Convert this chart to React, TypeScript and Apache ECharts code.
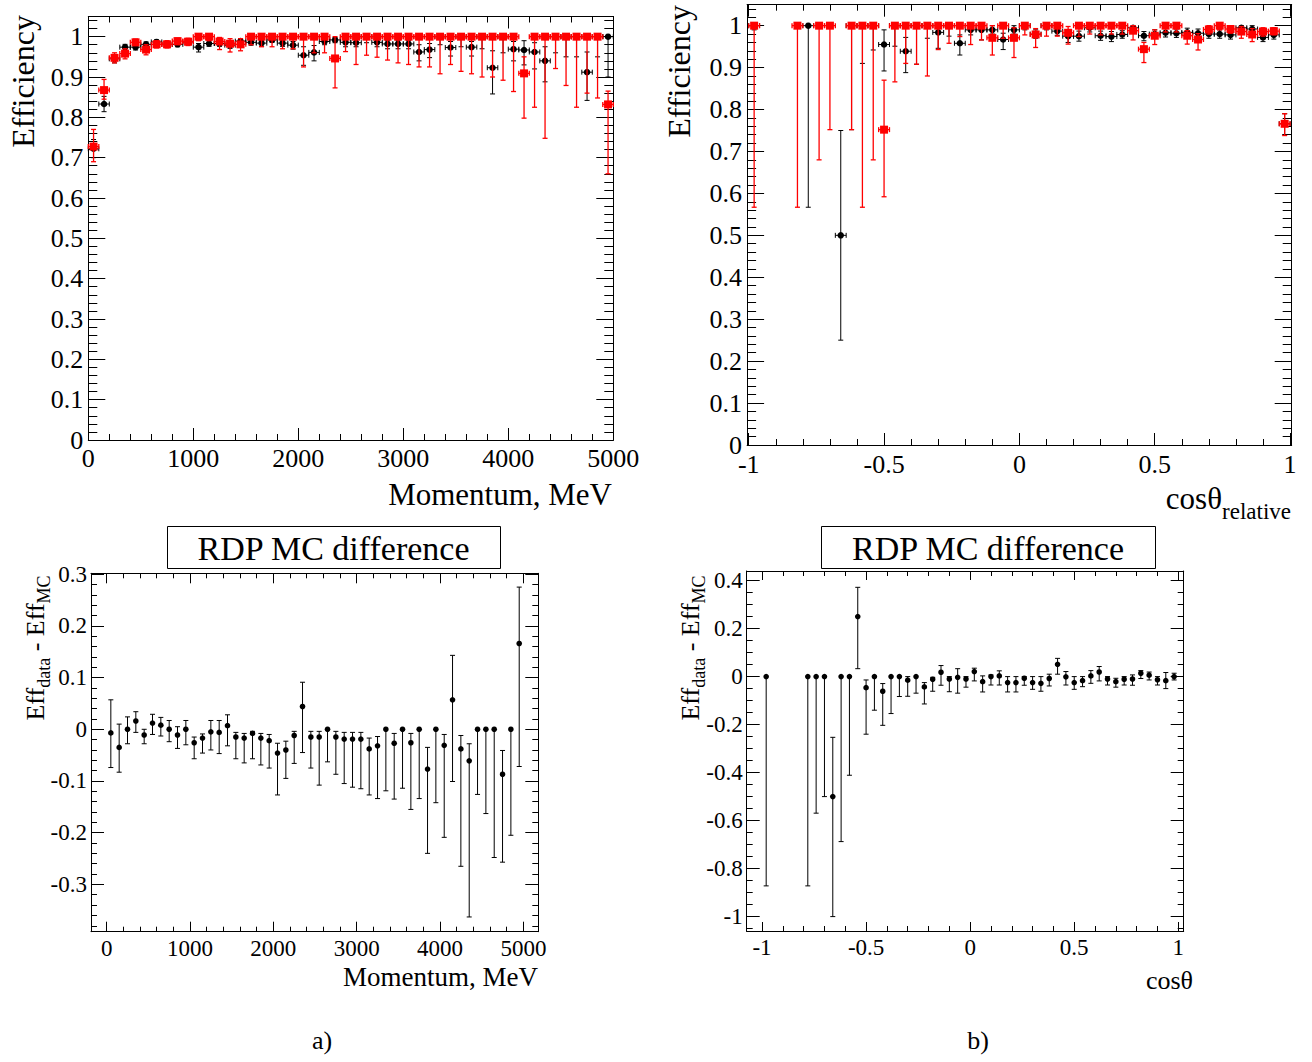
import React, { useEffect, useRef } from 'react';
import * as echarts from 'echarts';

const FONT = '"Liberation Serif", "Times New Roman", serif';

// ---------------- Panel a) : efficiency vs momentum ----------------
const momentumCenters = [50, 150, 250, 350, 450, 550, 650, 750, 850, 950, 1050, 1150, 1250, 1350, 1450, 1550, 1650, 1750, 1850, 1950, 2050, 2150, 2250, 2350, 2450, 2550, 2650, 2750, 2850, 2950, 3050, 3150, 3250, 3350, 3450, 3550, 3650, 3750, 3850, 3950, 4050, 4150, 4250, 4350, 4450, 4550, 4650, 4750, 4850, 4950];
const momentumHalfBin = 50;

const effDataP = [0.722, 0.833, 0.945, 0.974, 0.974, 0.981, 0.987, 0.981, 0.981, 0.987, 0.974, 0.983, 0.983, 0.979, 0.989, 0.986, 0.984, 0.992, 0.984, 0.979, 0.954, 0.961, 0.988, 0.992, 0.986, 0.985, 1, 0.986, 0.982, 0.982, 0.982, 0.962, 0.968, 1, 0.973, 1, 0.974, 1, 0.923, 1, 0.969, 0.967, 0.962, 0.94, 1, 1, 1, 0.912, 1, 1];
const effDataPLo = [0.700, 0.814, 0.935, 0.966, 0.967, 0.975, 0.982, 0.975, 0.975, 0.982, 0.962, 0.976, 0.976, 0.971, 0.983, 0.979, 0.976, 0.986, 0.976, 0.969, 0.929, 0.940, 0.980, 0.985, 0.975, 0.975, 0.985, 0.975, 0.970, 0.970, 0.970, 0.940, 0.948, 0.980, 0.952, 0.975, 0.952, 0.970, 0.858, 0.960, 0.940, 0.930, 0.920, 0.888, 0.960, 0.950, 0.950, 0.842, 0.950, 0.900];
const effDataPHi = [0.745, 0.852, 0.955, 0.981, 0.981, 0.987, 0.992, 0.987, 0.987, 0.992, 0.983, 0.990, 0.990, 0.986, 0.995, 0.992, 0.991, 0.997, 0.991, 0.988, 0.975, 0.978, 0.995, 0.998, 0.993, 0.993, 1, 0.994, 0.990, 0.990, 0.990, 0.980, 0.983, 1, 0.988, 1, 0.988, 1, 0.965, 1, 0.988, 0.990, 0.985, 0.975, 1, 1, 1, 0.962, 1, 1];

const effMcP = [0.7275, 0.8675, 0.9475, 0.958, 0.986, 0.968, 0.981, 0.981, 0.989, 0.9875, 1, 1, 0.988, 0.9825, 0.981, 1, 1, 1, 1, 1, 1, 1, 1, 0.946, 1, 1, 1, 1, 1, 1, 1, 1, 1, 1, 1, 1, 1, 1, 1, 1, 1, 0.909, 1, 1, 1, 1, 1, 1, 1, 0.832];
const effMcPLo = [0.690, 0.845, 0.935, 0.945, 0.978, 0.955, 0.972, 0.972, 0.980, 0.978, 0.990, 0.990, 0.968, 0.962, 0.965, 0.980, 0.975, 0.975, 0.970, 0.970, 0.925, 0.960, 0.960, 0.873, 0.963, 0.931, 0.954, 0.949, 0.942, 0.935, 0.931, 0.925, 0.925, 0.908, 0.931, 0.914, 0.908, 0.900, 0.900, 0.892, 0.864, 0.798, 0.825, 0.748, 0.921, 0.879, 0.825, 0.860, 0.848, 0.660];
const effMcPHi = [0.770, 0.894, 0.960, 0.970, 0.994, 0.980, 0.990, 0.990, 0.996, 0.996, 1, 1, 0.998, 0.995, 0.995, 1, 1, 1, 1, 1, 1, 1, 1, 1, 1, 1, 1, 1, 1, 1, 1, 1, 1, 1, 1, 1, 1, 1, 1, 1, 1, 0.950, 1, 1, 1, 1, 1, 1, 1, 0.865];

const diffP = [-0.007, -0.035, 0, 0.016, -0.011, 0.012, 0.008, 0, -0.011, 0, -0.026, -0.017, -0.005, -0.006, 0.007, -0.015, -0.017, -0.008, -0.017, -0.022, -0.046, -0.04, -0.012, 0.044, -0.015, -0.015, 0, -0.015, -0.019, -0.019, -0.019, -0.038, -0.032, 0, -0.027, 0, -0.026, 0, -0.077, 0, -0.031, 0.057, -0.038, -0.061, 0, 0, 0, -0.087, 0, 0.166];
const diffPLo = [-0.074, -0.083, -0.028, -0.006, -0.028, -0.010, -0.013, -0.024, -0.037, -0.030, -0.057, -0.046, -0.040, -0.047, -0.032, -0.057, -0.065, -0.057, -0.069, -0.075, -0.127, -0.095, -0.066, -0.045, -0.075, -0.108, -0.063, -0.087, -0.105, -0.112, -0.115, -0.127, -0.134, -0.119, -0.135, -0.114, -0.155, -0.134, -0.240, -0.142, -0.209, -0.101, -0.265, -0.363, -0.126, -0.163, -0.248, -0.257, -0.205, -0.072];
const diffPHi = [0.057, 0.010, 0.024, 0.034, 0, 0.029, 0.023, 0.017, 0.005, 0.017, -0.015, -0.009, 0.017, 0.017, 0.028, -0.006, -0.008, -0.004, -0.008, -0.010, -0.027, -0.023, -0.004, 0.091, -0.004, -0.004, 0, -0.004, -0.006, -0.006, -0.006, -0.017, -0.014, 0, -0.008, 0, -0.008, 0, -0.035, 0, -0.010, 0.143, -0.012, -0.028, 0, 0, 0, -0.041, 0, 0.275];

// ---------------- Panel b) : efficiency vs cos(theta) ----------------
const cosCenters = [-0.98, -0.94, -0.9, -0.86, -0.82, -0.78, -0.74, -0.7, -0.66, -0.62, -0.58, -0.54, -0.5, -0.46, -0.42, -0.38, -0.34, -0.3, -0.26, -0.22, -0.18, -0.14, -0.1, -0.06, -0.02, 0.02, 0.06, 0.1, 0.14, 0.18, 0.22, 0.26, 0.3, 0.34, 0.38, 0.42, 0.46, 0.5, 0.54, 0.58, 0.62, 0.66, 0.7, 0.74, 0.78, 0.82, 0.86, 0.9, 0.94, 0.98];
const cosHalfBin = 0.02;

const effDataC = [1, null, null, null, null, 1, null, null, 0.5, 1, 1, 1, 0.955, 1, 0.939, 1, 1, 0.984, 1, 0.958, 0.99, 0.99, 0.99, 0.967, 0.99, 1, 0.98, 1, 0.987, 0.975, 0.975, 0.995, 0.976, 0.974, 0.979, 0.995, 0.976, 0.98, 0.983, 0.982, 0.984, 0.982, 0.98, 0.98, 0.978, 0.995, 0.992, 0.972, 0.978, 0.766];
const effDataCLo = [0.99, null, null, null, null, 0.567, null, null, 0.25, 0.752, 0.91, 0.942, 0.892, 0.951, 0.888, 0.908, 0.97, 0.946, 0.975, 0.93, 0.978, 0.966, 0.98, 0.943, 0.98, 0.99, 0.97, 0.99, 0.977, 0.96, 0.963, 0.985, 0.965, 0.962, 0.97, 0.985, 0.964, 0.97, 0.973, 0.972, 0.974, 0.972, 0.97, 0.97, 0.968, 0.985, 0.982, 0.962, 0.968, 0.74];
const effDataCHi = [1, null, null, null, null, 1, null, null, 0.75, 1, 1, 1, 0.99, 1, 0.972, 1, 1, 1, 1, 0.978, 1, 1, 1, 0.982, 1, 1, 0.99, 1, 0.997, 0.99, 0.987, 1, 0.987, 0.986, 0.988, 1, 0.986, 0.99, 0.993, 0.992, 0.994, 0.992, 0.99, 0.99, 0.988, 1, 1, 0.982, 0.988, 0.79];

const effMcC = [1, null, null, null, 1, null, 1, 1, null, 1, 1, 1, 0.752, 1, 1, 1, 1, 1, 1, 1, 1, 1, 0.971, 1, 0.971, 1, 0.979, 1, 1, 0.983, 1, 1, 1, 1, 1, 0.988, 0.944, 0.976, 1, 1, 0.976, 0.967, 0.991, 1, 0.992, 0.986, 0.979, 0.986, 0.987, 0.766];
const effMcCLo = [0.567, null, null, null, 0.567, null, 0.68, 0.752, null, 0.752, 0.567, 0.68, 0.592, 0.866, 0.91, 0.908, 0.88, 0.943, 0.958, 0.974, 0.955, 0.966, 0.93, 0.97, 0.924, 0.978, 0.948, 0.975, 0.975, 0.956, 0.974, 0.98, 0.978, 0.98, 0.98, 0.966, 0.912, 0.955, 0.985, 0.985, 0.956, 0.942, 0.98, 0.99, 0.982, 0.97, 0.962, 0.975, 0.978, 0.738];
const effMcCHi = [1, null, null, null, 1, null, 1, 1, null, 1, 1, 1, 0.87, 1, 1, 1, 1, 1, 1, 1, 1, 1, 1, 1, 0.995, 1, 0.993, 1, 1, 0.998, 1, 1, 1, 1, 1, 1, 0.96, 0.99, 1, 1, 0.988, 0.981, 1, 1, 1, 0.998, 0.993, 0.995, 0.995, 0.79];

const diffC = [0, null, null, null, null, 0, 0, 0, -0.5, 0, 0, 0.25, -0.046, 0, -0.061, 0, 0, -0.015, 0, -0.043, -0.011, 0.018, -0.01, -0.003, -0.01, 0.021, -0.021, 0, 0.003, -0.025, -0.025, -0.007, -0.025, -0.028, -0.008, 0.051, -0.001, -0.025, -0.017, 0.003, 0.019, -0.01, -0.021, -0.011, -0.01, 0.014, 0.006, -0.013, -0.017, 0];
const diffCLo = [-0.872, null, null, null, null, -0.872, -0.569, -0.5, -1, -0.6875, -0.411, 0.033, -0.24, -0.14, -0.203, -0.154, -0.083, -0.082, -0.069, -0.114, -0.061, -0.036, -0.063, -0.069, -0.044, -0.018, -0.064, -0.035, -0.035, -0.064, -0.064, -0.036, -0.053, -0.061, -0.039, 0.01, -0.035, -0.053, -0.042, -0.028, -0.018, -0.035, -0.044, -0.035, -0.036, -0.008, -0.014, -0.035, -0.05, -0.014];
const diffCHi = [0, null, null, null, null, 0, 0, 0, -0.253, 0, 0, 0.372, -0.014, 0, -0.029, 0, 0, 0, 0, -0.025, -0.003, 0.046, 0, 0.033, 0, 0.035, 0.003, 0.007, 0.024, 0, 0, 0, 0, 0, 0.01, 0.076, 0.021, 0, 0, 0.025, 0.042, 0, -0.007, 0, 0.007, 0.025, 0.019, 0, 0.017, 0.014];

// tick steps (major / minor) per panel
const momentumTicks = [1000, 200];
const cosTicks = [0.5, 0.1];
const effTicks = [0.1, 0.02];
const diffPTicks = [0.1, 0.02];
const diffCTicks = [0.2, 0.05];

type Row = [number, number, number, number];

function buildRows(xs: number[], ys: (number | null)[], lo: (number | null)[], hi: (number | null)[]): Row[] {
  const out: Row[] = [];
  xs.forEach((x, i) => {
    const y = ys[i];
    if (y == null) return;
    out.push([x, y, lo[i] ?? y, hi[i] ?? y]);
  });
  return out;
}

function fmtNum(v: number, step: number): string {
  const k = v / step;
  if (Math.abs(k - Math.round(k)) > 1e-6) return '';
  const r = Math.round(k) * step;
  const s = String(parseFloat(r.toFixed(4)));
  return s === '-0' ? '0' : s;
}

interface MarkOpt {
  color: string;
  hw: number;
  marker: 'circle' | 'rect';
  size: number;
  lw: number;
  cap: number;
  z: number;
}

function errSeries(g: number, rows: Row[], o: MarkOpt) {
  return {
    type: 'custom',
    xAxisIndex: 4 * g,
    yAxisIndex: 4 * g,
    z: o.z,
    silent: true,
    clip: false,
    dimensions: ['x', 'y', 'lo', 'hi'],
    encode: { x: 0, y: [1, 2, 3] },
    data: rows,
    renderItem: (_p: any, api: any) => {
      const x = api.value(0);
      const y = api.value(1);
      const lo = api.value(2);
      const hi = api.value(3);
      const c = api.coord([x, y]);
      const pl = api.coord([x, lo]);
      const ph = api.coord([x, hi]);
      const st = { stroke: o.color, lineWidth: o.lw };
      const ch: any[] = [];
      if (Math.abs(pl[1] - ph[1]) > 0.5) {
        ch.push({ type: 'line', shape: { x1: c[0], y1: pl[1], x2: c[0], y2: ph[1] }, style: st });
        if (lo < y) ch.push({ type: 'line', shape: { x1: c[0] - o.cap, y1: pl[1], x2: c[0] + o.cap, y2: pl[1] }, style: st });
        if (hi > y) ch.push({ type: 'line', shape: { x1: c[0] - o.cap, y1: ph[1], x2: c[0] + o.cap, y2: ph[1] }, style: st });
      }
      if (o.hw > 0) {
        const a = api.coord([x - o.hw, y]);
        const b = api.coord([x + o.hw, y]);
        ch.push({ type: 'line', shape: { x1: a[0], y1: c[1], x2: b[0], y2: c[1] }, style: st });
        ch.push({ type: 'line', shape: { x1: a[0], y1: c[1] - o.cap, x2: a[0], y2: c[1] + o.cap }, style: st });
        ch.push({ type: 'line', shape: { x1: b[0], y1: c[1] - o.cap, x2: b[0], y2: c[1] + o.cap }, style: st });
      }
      if (o.marker === 'circle') {
        ch.push({ type: 'circle', shape: { cx: c[0], cy: c[1], r: o.size / 2 }, style: { fill: o.color } });
      } else {
        ch.push({ type: 'rect', shape: { x: c[0] - o.size / 2, y: c[1] - o.size / 2, width: o.size, height: o.size }, style: { fill: o.color } });
      }
      return { type: 'group', children: ch };
    },
  };
}

interface AxisSpec {
  min: number;
  max: number;
  step: number;
  minor: number;
  majorLen: number;
  minorLen: number;
  fontSize: number;
  margin: number;
}

function axesFor(g: number, dim: 'x' | 'y', s: AxisSpec) {
  const pos = dim === 'x' ? ['bottom', 'top'] : ['left', 'right'];
  const base = {
    type: 'value',
    gridIndex: g,
    min: s.min,
    max: s.max,
    splitLine: { show: false },
    minorTick: { show: false },
    minorSplitLine: { show: false },
  };
  const major = (position: string, labels: boolean) => ({
    ...base,
    position,
    minInterval: s.step,
    maxInterval: s.step,
    axisLine: { show: true, onZero: false, lineStyle: { color: '#000', width: 1 } },
    axisTick: { show: true, inside: true, length: s.majorLen, lineStyle: { color: '#000', width: 1 } },
    axisLabel: {
      show: labels,
      margin: s.margin,
      fontSize: s.fontSize,
      fontFamily: FONT,
      color: '#000',
      formatter: (v: number) => fmtNum(v, s.step),
    },
  });
  const minor = (position: string) => ({
    ...base,
    position,
    minInterval: s.minor,
    maxInterval: s.minor,
    axisLine: { show: false, onZero: false },
    axisTick: { show: true, inside: true, length: s.minorLen, lineStyle: { color: '#000', width: 1 } },
    axisLabel: { show: false },
  });
  return [major(pos[0], true), major(pos[1], false), minor(pos[0]), minor(pos[1])];
}

function buildOption() {
  const grids = [
    { left: 88.3, top: 16.5, width: 525, height: 423.5 },
    { left: 747.1, top: 4.7, width: 544.6, height: 440.3 },
    { left: 91, top: 573.3, width: 447.3, height: 358.4 },
    { left: 746.7, top: 571, width: 437, height: 360 },
  ];

  const xAxes = [
    ...axesFor(0, 'x', { min: 0, max: 5000, step: momentumTicks[0], minor: momentumTicks[1], majorLen: 12, minorLen: 6, fontSize: 26, margin: 5 }),
    ...axesFor(1, 'x', { min: -1.006, max: 1.006, step: cosTicks[0], minor: cosTicks[1], majorLen: 12, minorLen: 6, fontSize: 26, margin: 6 }),
    ...axesFor(2, 'x', { min: -188, max: 5179, step: momentumTicks[0], minor: momentumTicks[1], majorLen: 10, minorLen: 5, fontSize: 23, margin: 5 }),
    ...axesFor(3, 'x', { min: -1.0736, max: 1.026, step: cosTicks[0], minor: cosTicks[1], majorLen: 9, minorLen: 5, fontSize: 23, margin: 5 }),
  ];
  const yAxes = [
    ...axesFor(0, 'y', { min: 0, max: 1.05, step: effTicks[0], minor: effTicks[1], majorLen: 17, minorLen: 9, fontSize: 26, margin: 5 }),
    ...axesFor(1, 'y', { min: 0, max: 1.05, step: effTicks[0], minor: effTicks[1], majorLen: 17, minorLen: 9, fontSize: 26, margin: 5 }),
    ...axesFor(2, 'y', { min: -0.3915, max: 0.3017, step: diffPTicks[0], minor: diffPTicks[1], majorLen: 13, minorLen: 6, fontSize: 23, margin: 4 }),
    ...axesFor(3, 'y', { min: -1.06, max: 0.44, step: diffCTicks[0], minor: diffCTicks[1], majorLen: 13, minorLen: 6, fontSize: 23, margin: 4 }),
  ];

  const blackTop: MarkOpt = { color: '#000', hw: 0, marker: 'circle', size: 6.5, lw: 1, cap: 2.5, z: 2 };
  const redTop: MarkOpt = { color: '#ff0000', hw: 0, marker: 'rect', size: 8, lw: 1.3, cap: 2.5, z: 3 };
  const blackBottom: MarkOpt = { color: '#000', hw: 0, marker: 'circle', size: 5.6, lw: 1, cap: 2.5, z: 2 };

  const series = [
    errSeries(0, buildRows(momentumCenters, effDataP, effDataPLo, effDataPHi), { ...blackTop, hw: momentumHalfBin }),
    errSeries(0, buildRows(momentumCenters, effMcP, effMcPLo, effMcPHi), { ...redTop, hw: momentumHalfBin }),
    errSeries(1, buildRows(cosCenters, effDataC, effDataCLo, effDataCHi), { ...blackTop, hw: cosHalfBin }),
    errSeries(1, buildRows(cosCenters, effMcC, effMcCLo, effMcCHi), { ...redTop, hw: cosHalfBin }),
    errSeries(2, buildRows(momentumCenters, diffP, diffPLo, diffPHi), blackBottom),
    errSeries(3, buildRows(cosCenters, diffC, diffCLo, diffCHi), blackBottom),
  ];

  const txt = (x: number, y: number, text: string, fontSize: number, align: string, extra: any = {}) => ({
    type: 'text',
    x,
    y,
    ...extra,
    style: { text, fontSize, fontFamily: FONT, fill: '#000', align, verticalAlign: 'middle' },
  });

  const subRich = (main: number, sub: number, lh: number, pad: number) => ({
    m: { fontSize: main, fontFamily: FONT, lineHeight: lh, fill: '#000' },
    s: { fontSize: sub, fontFamily: FONT, lineHeight: lh, fill: '#000', padding: [pad, 0, 0, 0] },
  });

  const graphic = [
    txt(23, 15, 'Efficiency', 32, 'right', { rotation: Math.PI / 2 }),
    txt(679, 5, 'Efficiency', 32, 'right', { rotation: Math.PI / 2 }),
    txt(612, 494, 'Momentum, MeV', 31, 'right'),
    {
      type: 'text',
      x: 1291,
      y: 498,
      style: { text: '{m|cosθ}{s|relative}', rich: subRich(31, 23, 36, 26), fill: '#000', align: 'right', verticalAlign: 'middle' },
    },
    { type: 'rect', shape: { x: 167.5, y: 526.5, width: 333, height: 42 }, style: { fill: '#fff', stroke: '#000', lineWidth: 1 } },
    txt(333.5, 548, 'RDP MC difference', 34, 'center'),
    { type: 'rect', shape: { x: 821.5, y: 526.5, width: 334, height: 42 }, style: { fill: '#fff', stroke: '#000', lineWidth: 1 } },
    txt(988, 548, 'RDP MC difference', 34, 'center'),
    {
      type: 'text',
      x: 35,
      y: 648,
      rotation: Math.PI / 2,
      style: { text: '{m|Eff}{s|data}{m| - Eff}{s|MC}', rich: subRich(26, 18, 30, 18), fill: '#000', align: 'center', verticalAlign: 'middle' },
    },
    {
      type: 'text',
      x: 690,
      y: 648,
      rotation: Math.PI / 2,
      style: { text: '{m|Eff}{s|data}{m| - Eff}{s|MC}', rich: subRich(26, 18, 30, 18), fill: '#000', align: 'center', verticalAlign: 'middle' },
    },
    txt(538, 977, 'Momentum, MeV', 27, 'right'),
    txt(1193, 980, 'cosθ', 26, 'right'),
    txt(322, 1040, 'a)', 26, 'center'),
    txt(978, 1040, 'b)', 26, 'center'),
  ];

  return {
    animation: false,
    backgroundColor: '#fff',
    grid: grids,
    xAxis: xAxes,
    yAxis: yAxes,
    series,
    graphic,
  };
}

export default function App() {
  const ref = useRef<HTMLDivElement>(null);
  useEffect(() => {
    if (!ref.current) return;
    const chart = echarts.init(ref.current, undefined, { renderer: 'svg' });
    chart.setOption(buildOption() as any);
    return () => chart.dispose();
  }, []);
  return (
    <div
      ref={ref}
      style={{ position: 'absolute', left: 0, top: 0, width: 1312, height: 1062, background: '#fff' }}
    />
  );
}
